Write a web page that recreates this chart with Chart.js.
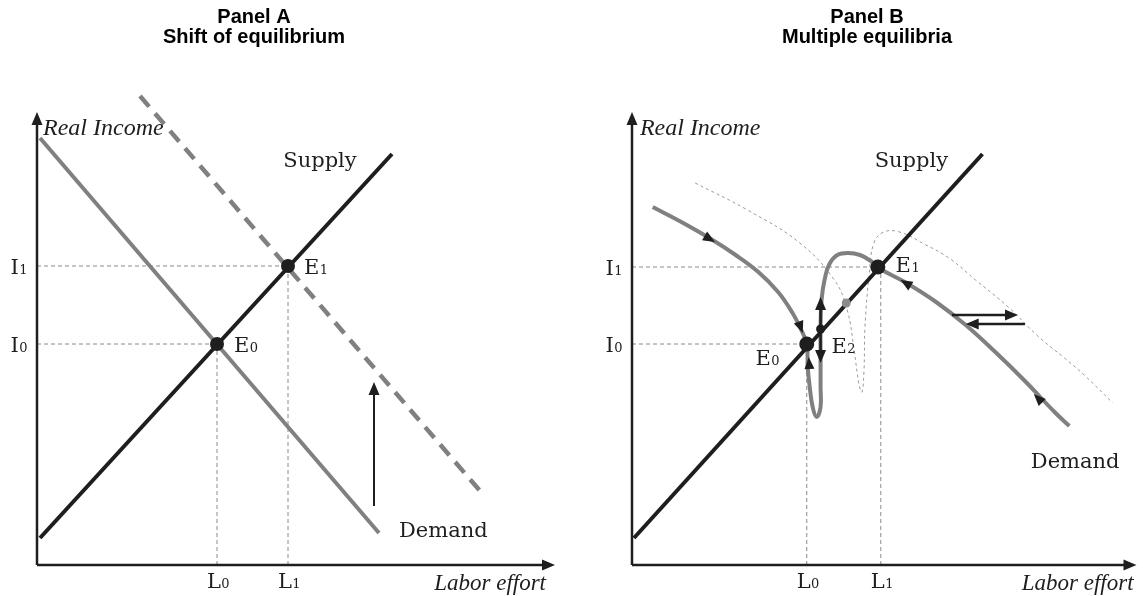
<!DOCTYPE html>
<html>
<head>
<meta charset="utf-8">
<script src="https://cdn.jsdelivr.net/npm/chart.js@4.4.0/dist/chart.umd.min.js"></script>
<style>
  body{margin:0;background:#fff;}
  #wrap{position:relative;width:1143px;height:596px;overflow:hidden;}
  canvas{position:absolute;top:0;}
  #panelA{left:0;}
  #panelB{left:571px;}
</style>
</head>
<body>
<div id="wrap">
  <canvas id="panelA" width="571" height="596"></canvas>
  <canvas id="panelB" width="572" height="596"></canvas>
</div>
<script>
// values in diagram units (labor effort on x, real income on y)
const supplyA = [{x:3,y:27},{x:355,y:411}];
const demandA = [{x:3,y:427},{x:342,y:32}];
const demandShiftA = [{x:103,y:469},{x:444,y:73}];
const equilibriaA = [{x:180,y:221},{x:251,y:299}];
const incomeTicksA = [221, 299];
const laborTicksA = [180, 251];

const supplyB = [{x:2,y:27},{x:355,y:411}];
const demandB = [
  {x:21,y:358},{x:50,y:343},{x:80,y:326},{x:105,y:310},{x:128,y:293},{x:148,y:273},
  {x:162,y:253},{x:171,y:236},{x:177,y:221},{x:178,y:198},{x:180,y:178},{x:183,y:158},
  {x:187,y:148},{x:191,y:158},{x:191,y:178},{x:191,y:205},{x:191,y:236},{x:192,y:265},
  {x:195,y:285},{x:200,y:301},{x:208,y:310},{x:219,y:312},{x:231,y:310},{x:242,y:304},
  {x:248,y:298},{x:278,y:282},{x:308,y:263},{x:338,y:240},{x:368,y:213},{x:398,y:184},
  {x:428,y:153},{x:443,y:139}
];
const demandShiftB = [
  {x:64,y:382},{x:117,y:355},{x:170,y:322},{x:205,y:285},{x:218,y:255},{x:225,y:215},
  {x:230,y:180},{x:233,y:173},{x:235,y:195},{x:236,y:238},{x:240,y:288},{x:245,y:322},
  {x:255,y:333},{x:271,y:333},{x:296,y:321},{x:321,y:307},{x:348,y:285},{x:381,y:258},
  {x:411,y:229},{x:438,y:207},{x:458,y:190},{x:487,y:162}
];
const stableB = [{x:177,y:221},{x:249,y:298}];   // E0, E1
const unstableB = [{x:191,y:236}];              // E2
const crossingB = [{x:217,y:262}];
const incomeTicksB = [221, 298];
const laborTicksB = [177, 252];

const incomeNames = [['I','0'],['I','1']];
const laborNames = [['L','0'],['L','1']];

const serif = '"DejaVu Serif", serif';
const ink = '#1e1e1e';
const grey = '#808080';

function guides(iTicks, lTicks){
  const sets = [];
  iTicks.forEach((v,i)=>{
    sets.push({data:[{x:0,y:v},{x:lTicks[i],y:v}], borderColor:'#8a8a8a', borderWidth:1, borderDash:[4,3], order:9});
    sets.push({data:[{x:lTicks[i],y:0},{x:lTicks[i],y:v}], borderColor:'#8a8a8a', borderWidth:1, borderDash:[4,3], order:9});
  });
  return sets;
}

function head(ctx, x0, y0, x1, y1, len, w){
  const a = Math.atan2(y1-y0, x1-x0);
  const c = Math.cos(a), s = Math.sin(a);
  ctx.beginPath();
  ctx.moveTo(x1, y1);
  ctx.lineTo(x1 - len*c + w*s, y1 - len*s - w*c);
  ctx.lineTo(x1 - len*c - w*s, y1 - len*s + w*c);
  ctx.closePath();
  ctx.fill();
}

function subText(ctx, main, sub, x, y, align){
  ctx.font = '21px ' + serif;
  const wm = ctx.measureText(main).width;
  ctx.font = '13px ' + serif;
  const ws = ctx.measureText(sub).width;
  let sx = x;
  if(align==='right') sx = x - wm - ws;
  if(align==='center') sx = x - (wm+ws)/2;
  ctx.textAlign = 'left';
  ctx.font = '21px ' + serif;
  ctx.fillText(main, sx, y);
  ctx.font = '13px ' + serif;
  ctx.fillText(sub, sx + wm + 0.5, y);
}

const diagram = {
  id:'diagram',
  afterDatasetsDraw(chart, args, o){
    const ctx = chart.ctx;
    const X = v => chart.scales.x.getPixelForValue(v);
    const Y = v => chart.scales.y.getPixelForValue(v);
    ctx.save();
    ctx.fillStyle = ink; ctx.strokeStyle = ink;
    // arrows with shafts
    (o.arrows||[]).forEach(([a,b,lw])=>{
      const x0=X(a.x), y0=Y(a.y), x1=X(b.x), y1=Y(b.y);
      const d = Math.hypot(x1-x0, y1-y0);
      ctx.lineWidth = lw; ctx.lineCap = 'butt';
      ctx.beginPath(); ctx.moveTo(x0,y0);
      ctx.lineTo(x1 - (x1-x0)/d*8, y1 - (y1-y0)/d*8); ctx.stroke();
      head(ctx, x0, y0, x1, y1, 13, 5.5);
    });
    // heads sitting on curves
    (o.heads||[]).forEach(([a,b])=>{
      head(ctx, X(a.x), Y(a.y), X(b.x), Y(b.y), 12, 5);
    });
    ctx.textBaseline = 'alphabetic';
    // tick labels
    o.iTicks.forEach((v,i)=> subText(ctx, incomeNames[i][0], incomeNames[i][1], X(0)-10, Y(v)+8, 'right'));
    o.lTicks.forEach((v,i)=> subText(ctx, laborNames[i][0], laborNames[i][1], X(v)+1, 588, 'center'));
    (o.subs||[]).forEach(([m,s,p])=> subText(ctx, m, s, X(p.x), Y(p.y), 'left'));
    (o.words||[]).forEach(([t,p,al,f])=>{
      ctx.font = f; ctx.textAlign = al; ctx.fillText(t, X(p.x), Y(p.y));
    });
    // panel title
    ctx.font = 'bold 20px "Liberation Sans", Arial, sans-serif';
    ctx.textAlign = 'center'; ctx.fillStyle = '#000';
    ctx.fillText(o.title[0], o.titleX, 23);
    ctx.fillText(o.title[1], o.titleX, 43);
    ctx.restore();
  }
};

function makeChart(id, datasets, xmax, pad, diag){
  return new Chart(document.getElementById(id), {
    type:'scatter',
    data:{datasets: datasets.map(d => Object.assign({showLine:true, pointRadius:0, fill:false, clip:false, borderCapStyle:'butt'}, d))},
    options:{
      responsive:false, animation:false, events:[],
      layout:{padding:pad},
      scales:{
        x:{type:'linear', min:0, max:xmax, display:false},
        y:{type:'linear', min:0, max:480, display:false}
      },
      plugins:{legend:{display:false}, tooltip:{enabled:false}, diagram:diag}
    },
    plugins:[diagram]
  });
}

const axisWords = (rx, lx) => [
  ['Real Income', {x:rx, y:430}, 'left', 'italic 24px "Liberation Serif", serif'],
  ['Labor effort', {x:lx, y:-25}, 'right', 'italic 23px "Liberation Serif", serif']
];

makeChart('panelA', [
  ...guides(incomeTicksA, laborTicksA),
  {data:demandShiftA, borderColor:grey, borderWidth:4.5, borderDash:[14,9], order:5},
  {data:demandA, borderColor:grey, borderWidth:4, order:4},
  {data:supplyA, borderColor:ink, borderWidth:4, order:3},
  {data:equilibriaA, showLine:false, pointRadius:7, pointBackgroundColor:ink, pointBorderWidth:0, order:1}
], 520, {left:37, right:14, top:85, bottom:31}, {
  title:['Panel A','Shift of equilibrium'], titleX:254,
  iTicks:incomeTicksA, lTicks:laborTicksA,
  arrows:[
    [{x:0,y:0},{x:0,y:453},2.5],
    [{x:0,y:0},{x:518,y:0},2.5],
    [{x:337,y:59},{x:337,y:183},2]
  ],
  subs:[['E','0',{x:197,y:213}],['E','1',{x:267,y:291}]],
  words:[...axisWords(6, 509),
    ['Supply', {x:283, y:398}, 'center', '21px '+serif],
    ['Demand', {x:362, y:28}, 'left', '21px '+serif]]
});

makeChart('panelB', [
  ...guides(incomeTicksB, laborTicksB),
  {data:demandShiftB, borderColor:'#9a9a9a', borderWidth:1, borderDash:[3,3], tension:0.4, order:6},
  {data:demandB, borderColor:grey, borderWidth:4, tension:0.4, order:4},
  {data:supplyB, borderColor:ink, borderWidth:4, order:3},
  {data:crossingB, showLine:false, pointRadius:4.5, pointBackgroundColor:'#8c8c8c', pointBorderWidth:0, order:2},
  {data:stableB, showLine:false, pointRadius:7.5, pointBackgroundColor:ink, pointBorderWidth:0, order:1},
  {data:unstableB, showLine:false, pointRadius:4.5, pointBackgroundColor:ink, pointBorderWidth:0, order:1}
], 510, {left:61, right:1, top:85, bottom:31}, {
  title:['Panel B','Multiple equilibria'], titleX:296,
  iTicks:incomeTicksB, lTicks:laborTicksB,
  arrows:[
    [{x:0,y:0},{x:0,y:453},2.5],
    [{x:0,y:0},{x:511,y:0},2.5],
    [{x:191,y:236},{x:191,y:268},2.5],
    [{x:191,y:236},{x:191,y:202},2.5],
    [{x:324,y:250},{x:391,y:250},2.5],
    [{x:398,y:241},{x:338,y:241},2.5]
  ],
  heads:[
    [{x:72,y:330},{x:84,y:323}],
    [{x:168,y:245},{x:173,y:232}],
    [{x:180,y:192},{x:179,y:208}],
    [{x:284,y:278},{x:272,y:285}],
    [{x:416,y:162},{x:407,y:171}]
  ],
  subs:[['E','0',{x:125,y:200}],['E','2',{x:202,y:212}],['E','1',{x:267,y:293}]],
  words:[...axisWords(8, 508),
    ['Supply', {x:283, y:398}, 'center', '21px '+serif],
    ['Demand', {x:404, y:97}, 'left', '21px '+serif]]
});
</script>
</body>
</html>
